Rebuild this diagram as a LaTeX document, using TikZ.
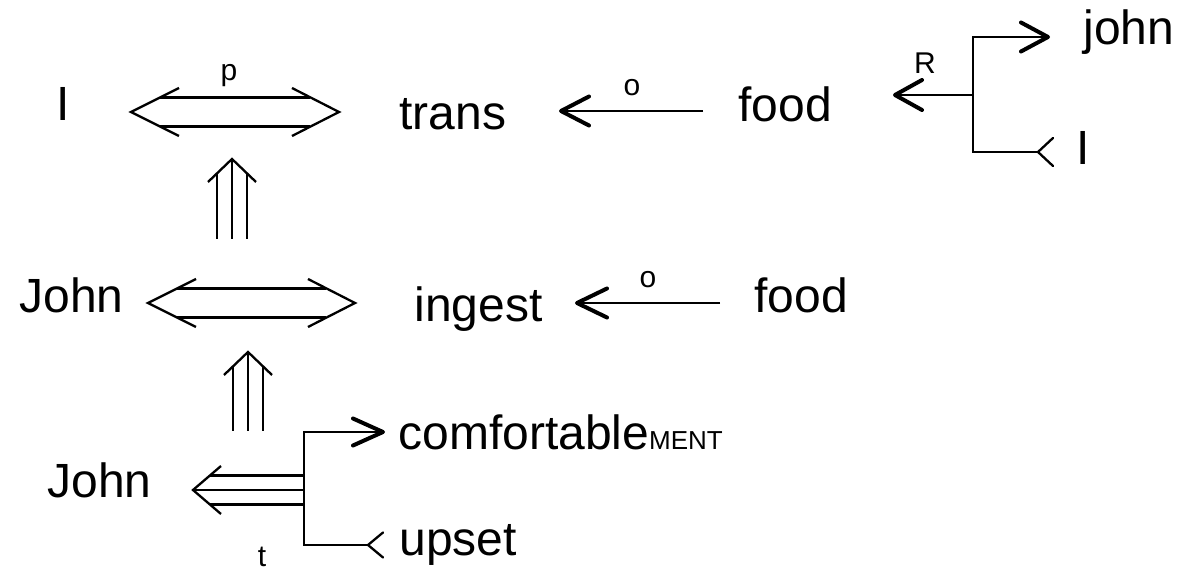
\documentclass[tikz,border=0pt]{standalone}
\usepackage{fontspec}
\setmainfont{Liberation Sans}
\usetikzlibrary{calc}
\newcommand{\dblarr}[2]{%
  \draw[ln] ($(#1)+(48,-24)$) -- (#1) -- ($(#1)+(48,24)$);
  \draw[ln] ($(#2)+(-47,-24)$) -- (#2) -- ($(#2)+(-47,24)$);
  \draw[ln] ($(#1)+(29,-14.5)$) -- ($(#2)+(-29,-14.5)$);
  \draw[ln] ($(#1)+(29,14.5)$) -- ($(#2)+(-29,14.5)$);}
\newcommand{\triup}[2]{%
  \draw[ln] ($(#1)+(-24,23)$) -- (#1) -- ($(#1)+(24,23)$);
  \draw[ln] (#1) -- ($(#1)+(0,#2)$);
  \draw[ln] ($(#1)+(-15,14.4)$) -- ($(#1)+(-15,#2)$);
  \draw[ln] ($(#1)+(15,14.4)$) -- ($(#1)+(15,#2)$);}
\begin{document}
\begin{tikzpicture}[x=0.5pt,y=-0.5pt,
  lbl/.style={inner sep=0pt,font=\fontsize{24}{28}\selectfont,anchor=base west},
  sml/.style={inner sep=0pt,font=\fontsize{15}{17}\selectfont,anchor=base},
  circ/.style={inner sep=0pt,font=\fontsize{15}{17}\selectfont,anchor=center},
  ln/.style={line width=1.15pt,line cap=butt,line join=miter},
  thk/.style={line width=2pt,line cap=round,line join=round}]
\useasboundingbox (0,0) rectangle (1180,571);

% ---- text nodes ----
\node[lbl] (I1) at (56,121) {I};
\node[sml] (p) at (229,81) {p};
\node[lbl] (trans) at (399,130) {trans};
\node[circ] (o1) at (632,88) {o};
\node[lbl] (food1) at (738,122) {food};
\node[sml] (R) at (925,74) {R};
\node[lbl] (john) at (1083,45) {john};
\node[lbl] (I2) at (1076,165) {I};

\node[lbl] (John2) at (19,313) {John};
\node[lbl] (ingest) at (414,322) {ingest};
\node[circ] (o2) at (648,280) {o};
\node[lbl] (food2) at (754,313) {food};

\node[lbl] (John3) at (47,498) {John};
\node[lbl] (comf) at (398,450) {comfortable{\fontsize{13}{15}\selectfont MENT}};
\node[lbl] (upset) at (399,556) {upset};
\node[sml] (t) at (262,567) {t};

% ---- coordinates ----
\coordinate (d1l) at (131,112);
\coordinate (d1r) at (339,112);
\coordinate (d2l) at (148,303);
\coordinate (d2r) at (355,303);
\coordinate (u1) at (232,159);
\coordinate (u2) at (248,352);
\coordinate (a1tip) at (561,111);
\coordinate (a1end) at (703,111);
\coordinate (a2tip) at (577,303);
\coordinate (a2end) at (720,303);
\coordinate (rvt) at (973,37);
\coordinate (rvb) at (973,152);
\coordinate (rtip) at (895,95);
\coordinate (jtip) at (1048,37);
\coordinate (itip) at (1038,152);
\coordinate (bvt) at (304,432);
\coordinate (bvb) at (304,545);
\coordinate (lt) at (193,490);
\coordinate (ctip) at (383,432);
\coordinate (utip) at (368,545);

% ---- double arrows ----
\dblarr{d1l}{d1r}
\dblarr{d2l}{d2r}

% ---- triple up arrows ----
\triup{u1}{80}
\triup{u2}{79}

% ---- o arrows ----
\draw[ln] (a1end) -- (a1tip);
\draw[thk] ($(a1tip)+(28,-14.5)$) -- (a1tip) -- ($(a1tip)+(28,14.5)$);
\draw[ln] (a2end) -- (a2tip);
\draw[thk] ($(a2tip)+(30,-14.5)$) -- (a2tip) -- ($(a2tip)+(30,14.5)$);

% ---- top right branch ----
\draw[ln] (jtip) -- (rvt) -- (rvb) -- (itip);
\draw[ln] (rvt |- rtip) -- (rtip);
\draw[thk] ($(rtip)+(27,-15)$) -- (rtip) -- ($(rtip)+(27,15)$);
\draw[thk] ($(jtip)+(-27,-14.5)$) -- (jtip) -- ($(jtip)+(-27,14.5)$);
\draw[ln,line cap=round] ($(itip)+(15,-14)$) -- (itip) -- ($(itip)+(15,14)$);

% ---- bottom branch ----
\draw[ln] (ctip) -- (bvt) -- (bvb) -- (utip);
\draw[thk] ($(ctip)+(-30,-13.5)$) -- (ctip) -- ($(ctip)+(-30,13.5)$);
\draw[ln,line cap=round] ($(utip)+(15,-12.5)$) -- (utip) -- ($(utip)+(15,12.5)$);

% ---- left triple arrow ----
\draw[ln] ($(lt)+(28,-24)$) -- (lt) -- ($(lt)+(28,24)$);
\draw[ln] (lt) -- (lt -| bvt);
\draw[ln] ($(lt)+(17,-14.5)$) -- ($(lt -| bvt)+(0,-14.5)$);
\draw[ln] ($(lt)+(17,14.5)$) -- ($(lt -| bvt)+(0,14.5)$);
\end{tikzpicture}
\end{document}
